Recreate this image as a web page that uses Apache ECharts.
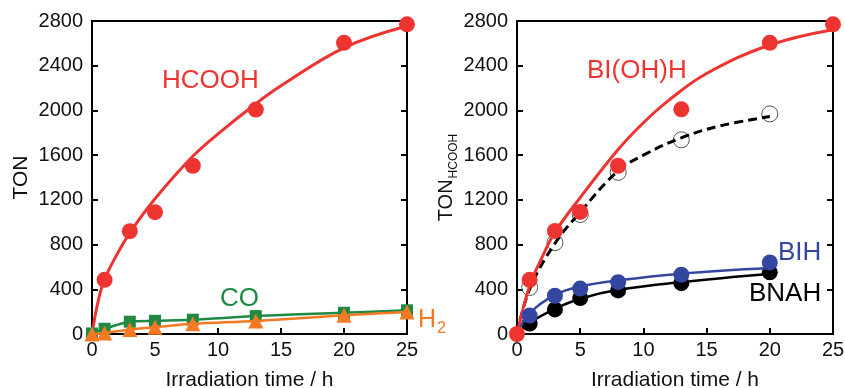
<!DOCTYPE html>
<html><head><meta charset="utf-8">
<script src="https://cdn.jsdelivr.net/npm/echarts@6/dist/echarts.min.js"></script>
<style>html,body{margin:0;padding:0;background:#fff}#c{width:845px;height:388px}</style>
</head><body><div id="c"></div>
<script>
// ---- data ----
var xTicks = [0, 5, 10, 15, 20, 25];
var yTicks = [0, 400, 800, 1200, 1600, 2000, 2400, 2800];
var time = [0, 1, 3, 5, 8, 13, 20, 25];
var hcooh = [null, 485, 920, 1090, 1505, 2008, 2605, 2770];
var co = [5, 47, 110, 118, 128, 160, 190, 212];
var h2 = [0, 8, 40, 61, 91, 116, 168, 196];
// left HCOOH fitted curve
var fitLeftT = [0, 0.5, 1, 2, 3, 5, 8, 10, 13, 15, 20, 25];
var fitLeftV = [0, 300, 490, 715, 905, 1210, 1590, 1790, 2060, 2220, 2560, 2755];
// right panel
var biohT = [0, 1, 3, 5, 8, 13, 20, 25];
var bioh = [0, 485, 922, 1092, 1505, 2010, 2605, 2770];
var fitBiohT = [0, 1, 2, 3, 5, 8, 10, 12, 15, 20, 25];
var fitBiohV = [0, 430, 690, 910, 1220, 1650, 1890, 2090, 2330, 2585, 2722];
var openT = [1, 3, 5, 8, 13, 20];
var openV = [416, 817, 1069, 1446, 1737, 1969];
var dashT = [0, 1, 3, 5, 8, 10, 13, 16, 20];
var dashV = [0, 400, 810, 1090, 1460, 1600, 1755, 1860, 1945];
var bihT = [1, 3, 5, 8, 13, 20];
var bih = [165, 342, 406, 464, 530, 640];
var bihFitT = [0, 1, 3, 5, 8, 13, 20];
var bihFitV = [0, 185, 350, 425, 480, 540, 590];
var bnahT = [1, 3, 5, 8, 13, 20];
var bnah = [93, 220, 321, 390, 455, 552];
var bnahFitT = [0, 1, 3, 5, 8, 13, 20];
var bnahFitV = [0, 100, 225, 315, 395, 465, 540];

function pairs(t, v) { var o = []; for (var i = 0; i < t.length; i++) if (v[i] != null) o.push([t[i], v[i]]); return o; }

var FONT = 'Liberation Sans';
var RED = '#ee3431', GREEN = '#1e8a43', ORANGE = '#f37a22', BLUE = '#3346a0';
var DOT = 16;

function xAxisDef(gi) {
  return {
    type: 'value', gridIndex: gi, min: 0, max: 25, interval: 5,
    name: 'Irradiation time / h', nameLocation: 'middle', nameGap: 36,
    nameTextStyle: { fontFamily: FONT, fontSize: 21, color: '#111' },
    axisLine: { show: true, lineStyle: { color: '#000', width: 2 } },
    axisTick: { show: true, inside: true, length: 6, lineStyle: { color: '#000', width: 2 } },
    axisLabel: { fontFamily: FONT, fontSize: 20, color: '#111', margin: 6,
      formatter: function (v) { return xTicks.indexOf(v) >= 0 ? String(v) : ''; } },
    splitLine: { show: false }
  };
}
function yAxisDef(gi, pos, showLabel, name) {
  var a = {
    type: 'value', gridIndex: gi, min: 0, max: 2800, interval: 400, position: pos,
    axisLine: { show: true, lineStyle: { color: '#000', width: 2 } },
    axisTick: { show: true, inside: true, length: 6, lineStyle: { color: '#000', width: 2 } },
    axisLabel: { show: showLabel, fontFamily: FONT, fontSize: 20, color: '#111', margin: 9,
      formatter: function (v) { return yTicks.indexOf(v) >= 0 ? String(v) : ''; } },
    splitLine: { show: false }
  };
  if (name) {
    a.name = name.text; a.nameLocation = 'middle'; a.nameGap = name.gap; a.nameRotate = 90;
    a.nameTextStyle = name.style;
  }
  return a;
}

var chart = echarts.init(document.getElementById('c'), null, { renderer: 'canvas' });
var option = {
  animation: false,
  backgroundColor: '#fff',
  grid: [
    { left: 92, top: 21, width: 315, height: 313, show: true, borderColor: '#000', borderWidth: 2, outerBoundsMode: 'none', containLabel: false },
    { left: 517, top: 21, width: 316, height: 313, show: true, borderColor: '#000', borderWidth: 2, outerBoundsMode: 'none', containLabel: false }
  ],
  xAxis: [xAxisDef(0), xAxisDef(1)],
  yAxis: [
    yAxisDef(0, 'left', true, { text: 'TON', gap: 60, style: { fontFamily: FONT, fontSize: 21, color: '#111' } }),
    yAxisDef(0, 'right', false),
    yAxisDef(1, 'left', true, { text: '{a|TON}{b|HCOOH}', gap: 58, style: { fontFamily: FONT, color: '#111',
      rich: { a: { fontFamily: FONT, fontSize: 20, color: '#111', lineHeight: 24, verticalAlign: 'bottom' },
              b: { fontFamily: FONT, fontSize: 12, color: '#111', lineHeight: 12, verticalAlign: 'bottom', padding: [0, 0, -3, 1] } } } }),
    yAxisDef(1, 'right', false)
  ],
  series: [
    // left panel
    { type: 'line', xAxisIndex: 0, yAxisIndex: 0, data: pairs(fitLeftT, fitLeftV), smooth: 0.4,
      showSymbol: false, lineStyle: { color: RED, width: 3 }, z: 3 },
    { type: 'line', xAxisIndex: 0, yAxisIndex: 0, data: pairs(time, co), smooth: 0.3,
      symbol: 'rect', symbolSize: 12, itemStyle: { color: GREEN, opacity: 1 }, lineStyle: { color: GREEN, width: 2.5 }, z: 4 },
    { type: 'line', xAxisIndex: 0, yAxisIndex: 0, data: pairs(time, h2), smooth: 0.3,
      symbol: 'triangle', symbolSize: 15, itemStyle: { color: ORANGE, opacity: 1 }, lineStyle: { color: ORANGE, width: 2.5 }, z: 5 },
    { type: 'scatter', xAxisIndex: 0, yAxisIndex: 0, data: pairs(time, hcooh), symbol: 'circle', symbolSize: DOT,
      itemStyle: { color: RED, opacity: 1 }, z: 6 },
    // right panel
    { type: 'scatter', xAxisIndex: 1, yAxisIndex: 2, data: pairs(openT, openV), symbol: 'circle', symbolSize: DOT,
      itemStyle: { color: 'rgba(0,0,0,0)', borderColor: '#555', borderWidth: 1, opacity: 1 }, z: 3 },
    { type: 'line', xAxisIndex: 1, yAxisIndex: 2, data: pairs(dashT, dashV), smooth: 0.4,
      showSymbol: false, lineStyle: { color: '#000', width: 3, type: [9, 5] }, z: 4 },
    { type: 'line', xAxisIndex: 1, yAxisIndex: 2, data: pairs(fitBiohT, fitBiohV), smooth: 0.4,
      showSymbol: false, lineStyle: { color: RED, width: 3 }, z: 5 },
    { type: 'line', xAxisIndex: 1, yAxisIndex: 2, data: pairs(bnahFitT, bnahFitV), smooth: 0.4,
      showSymbol: false, lineStyle: { color: '#000', width: 2.5 }, z: 5 },
    { type: 'scatter', xAxisIndex: 1, yAxisIndex: 2, data: pairs(bnahT, bnah), symbol: 'circle', symbolSize: DOT,
      itemStyle: { color: '#000', opacity: 1 }, z: 6 },
    { type: 'line', xAxisIndex: 1, yAxisIndex: 2, data: pairs(bihFitT, bihFitV), smooth: 0.4,
      showSymbol: false, lineStyle: { color: BLUE, width: 2.5 }, z: 7 },
    { type: 'scatter', xAxisIndex: 1, yAxisIndex: 2, data: pairs(bihT, bih), symbol: 'circle', symbolSize: DOT,
      itemStyle: { color: BLUE, opacity: 1 }, z: 8 },
    { type: 'scatter', xAxisIndex: 1, yAxisIndex: 2, data: pairs(biohT, bioh), symbol: 'circle', symbolSize: DOT,
      itemStyle: { color: RED, opacity: 1 }, z: 9 }
  ],
  graphic: [
    { type: 'text', left: 162, top: 68, z: 100, style: { text: 'HCOOH', fill: RED, font: '26px "Liberation Sans"' } },
    { type: 'text', left: 220, top: 286, z: 100, style: { text: 'CO', fill: GREEN, font: '26px "Liberation Sans"' } },
    { type: 'text', left: 418, top: 308, z: 100, style: { text: '{a|H}{b|2}', fill: ORANGE,
      rich: { a: { fontFamily: FONT, fontSize: 25, fill: ORANGE, color: ORANGE, lineHeight: 26, verticalAlign: 'bottom' },
              b: { fontFamily: FONT, fontSize: 16, fill: ORANGE, color: ORANGE, lineHeight: 16, verticalAlign: 'bottom', padding: [0, 0, -4, 1] } } } },
    { type: 'text', left: 587, top: 58, z: 100, style: { text: 'BI(OH)H', fill: RED, font: '26px "Liberation Sans"' } },
    { type: 'text', left: 778, top: 240, z: 100, style: { text: 'BIH', fill: BLUE, font: '26px "Liberation Sans"' } },
    { type: 'text', left: 749, top: 281, z: 100, style: { text: 'BNAH', fill: '#000', font: '26px "Liberation Sans"' } }
  ]
};
chart.setOption(option);
</script></body></html>
